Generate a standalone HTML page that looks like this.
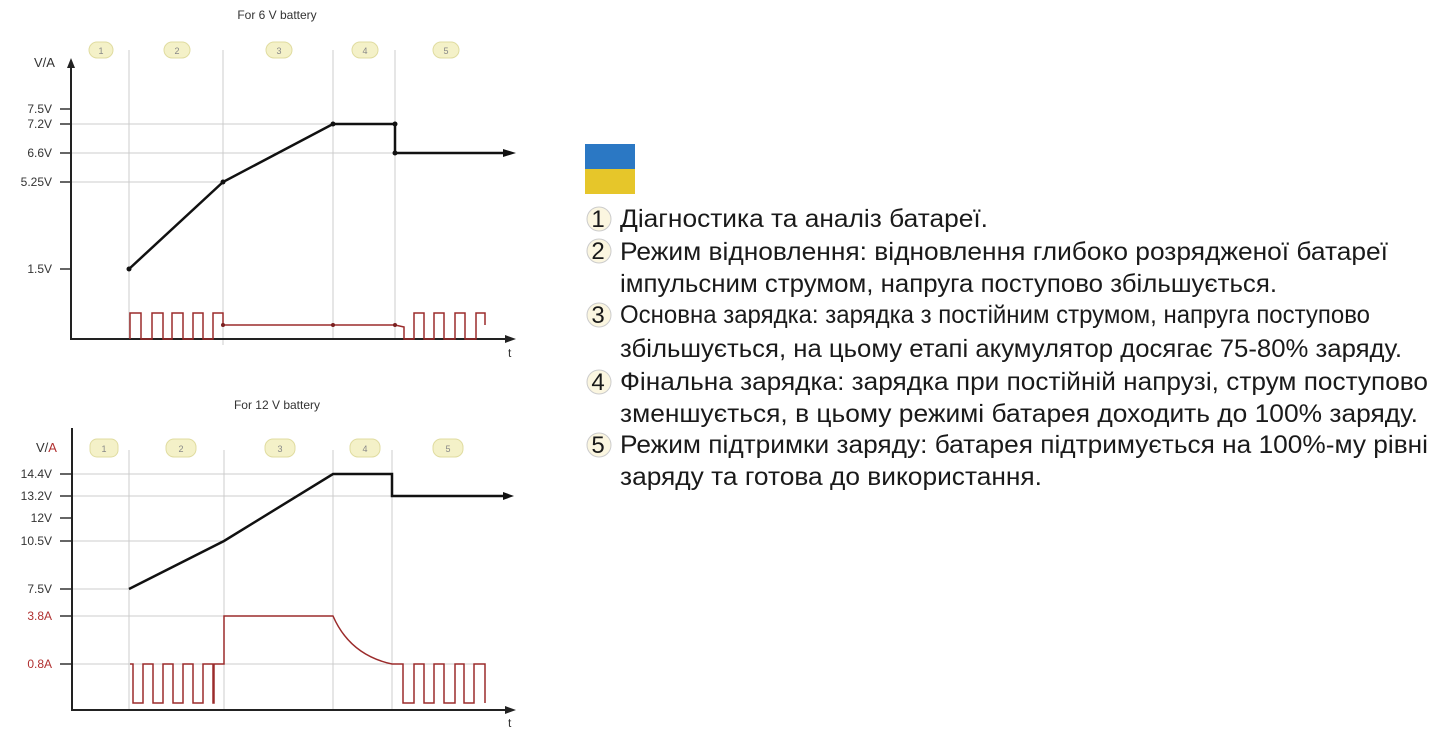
<!DOCTYPE html>
<html><head><meta charset="utf-8"><style>
html,body{margin:0;padding:0;background:#fff;}
svg{display:block}
</style></head><body>
<svg width="1440" height="736" xmlns="http://www.w3.org/2000/svg" font-family="Liberation Sans, DejaVu Sans, sans-serif">
<!-- TOP CHART -->
<text x="277" y="19" font-size="12" text-anchor="middle" fill="#333">For 6 V battery</text>
<g fill="#f4f1c8" stroke="#e0dca0" stroke-width="1">
<rect x="89" y="42" width="24" height="16" rx="8"/><rect x="164" y="42" width="26" height="16" rx="8"/><rect x="266" y="42" width="26" height="16" rx="8"/><rect x="352" y="42" width="26" height="16" rx="8"/><rect x="433" y="42" width="26" height="16" rx="8"/>
</g>
<g font-size="9" fill="#888" text-anchor="middle"><text x="101" y="54">1</text><text x="177" y="54">2</text><text x="279" y="54">3</text><text x="365" y="54">4</text><text x="446" y="54">5</text></g>
<g stroke="#ccc" stroke-width="1">
<line x1="129" y1="50" x2="129" y2="339"/><line x1="223" y1="50" x2="223" y2="345"/><line x1="333" y1="50" x2="333" y2="339"/><line x1="395" y1="50" x2="395" y2="339"/>
<line x1="72" y1="124" x2="395" y2="124"/><line x1="72" y1="153" x2="512" y2="153"/><line x1="72" y1="182" x2="223" y2="182"/>
</g>
<line x1="71" y1="65" x2="71" y2="340" stroke="#222" stroke-width="2"/>
<polygon points="71,58 67,68 75,68" fill="#222"/>
<line x1="71" y1="339" x2="508" y2="339" stroke="#222" stroke-width="2"/>
<polygon points="516,339 505,335 505,343" fill="#222"/>
<text x="508" y="357" font-size="12" fill="#333">t</text>
<text x="34" y="67" font-size="13" fill="#333">V/A</text>
<g font-size="12" fill="#333" text-anchor="end"><text x="52" y="113">7.5V</text><text x="52" y="128">7.2V</text><text x="52" y="157">6.6V</text><text x="52" y="186">5.25V</text><text x="52" y="273">1.5V</text></g>
<g stroke="#333" stroke-width="1.5"><line x1="60" y1="109" x2="70" y2="109"/><line x1="60" y1="124" x2="70" y2="124"/><line x1="60" y1="153" x2="70" y2="153"/><line x1="60" y1="182" x2="70" y2="182"/><line x1="60" y1="269" x2="70" y2="269"/></g>
<polyline points="129,269 223,182 333,124 395,124 395,153 505,153" fill="none" stroke="#111" stroke-width="2.5"/>
<polygon points="516,153 503,149 503,157" fill="#111"/>
<g fill="#111"><circle cx="129" cy="269" r="2.5"/><circle cx="223" cy="182" r="2.5"/><circle cx="333" cy="124" r="2.5"/><circle cx="395" cy="124" r="2.5"/><circle cx="395" cy="153" r="2.5"/></g>
<path d="M130,339 V313 H141 V339 H152 V313 H163 V339 H172 V313 H183 V339 H193 V313 H203 V339 H213 V313 H223 V325 H395 L404,327 V339 H414 V313 H424 V339 H434 V313 H444 V339 H455 V313 H465 V339 H476 V313 H485 V325" fill="none" stroke="#9b2b2b" stroke-width="1.5"/>
<g fill="#7a2020"><circle cx="223" cy="325" r="2"/><circle cx="333" cy="325" r="2"/><circle cx="395" cy="325" r="2"/></g>

<!-- BOTTOM CHART -->
<text x="277" y="409" font-size="12" text-anchor="middle" fill="#333">For 12 V battery</text>
<g fill="#f4f1c8" stroke="#e0dca0" stroke-width="1">
<rect x="90" y="439" width="28" height="18" rx="7"/><rect x="166" y="439" width="30" height="18" rx="8"/><rect x="265" y="439" width="30" height="18" rx="8"/><rect x="350" y="439" width="30" height="18" rx="8"/><rect x="433" y="439" width="30" height="18" rx="8"/>
</g>
<g font-size="9" fill="#888" text-anchor="middle"><text x="104" y="452">1</text><text x="181" y="452">2</text><text x="280" y="452">3</text><text x="365" y="452">4</text><text x="448" y="452">5</text></g>
<g stroke="#ccc" stroke-width="1">
<line x1="129" y1="450" x2="129" y2="710"/><line x1="224" y1="450" x2="224" y2="710"/><line x1="333" y1="450" x2="333" y2="710"/><line x1="392" y1="450" x2="392" y2="710"/>
<line x1="72" y1="474" x2="392" y2="474"/><line x1="72" y1="496" x2="512" y2="496"/><line x1="72" y1="541" x2="224" y2="541"/><line x1="72" y1="589" x2="129" y2="589"/><line x1="72" y1="616" x2="224" y2="616"/><line x1="72" y1="664" x2="485" y2="664"/>
</g>
<line x1="72" y1="428" x2="72" y2="711" stroke="#222" stroke-width="2"/>
<line x1="72" y1="710" x2="508" y2="710" stroke="#222" stroke-width="2"/>
<polygon points="516,710 505,706 505,714" fill="#222"/>
<text x="508" y="727" font-size="12" fill="#333">t</text>
<text x="36" y="452" font-size="13" fill="#333">V/<tspan fill="#b03030">A</tspan></text>
<g font-size="12" fill="#333" text-anchor="end"><text x="52" y="478">14.4V</text><text x="52" y="500">13.2V</text><text x="52" y="522">12V</text><text x="52" y="545">10.5V</text><text x="52" y="593">7.5V</text></g>
<g font-size="12" fill="#b03030" text-anchor="end"><text x="52" y="620">3.8A</text><text x="52" y="668">0.8A</text></g>
<g stroke="#333" stroke-width="1.5"><line x1="60" y1="474" x2="71" y2="474"/><line x1="60" y1="496" x2="71" y2="496"/><line x1="60" y1="518" x2="71" y2="518"/><line x1="60" y1="541" x2="71" y2="541"/><line x1="60" y1="589" x2="71" y2="589"/><line x1="60" y1="616" x2="71" y2="616"/><line x1="60" y1="664" x2="71" y2="664"/></g>
<polyline points="129,589 224,541 333,474 392,474 392,496 505,496" fill="none" stroke="#111" stroke-width="2.5"/>
<polygon points="514,496 503,492 503,500" fill="#111"/>
<path d="M130,664 H133 V703 H143 V664 H153 V703 H163 V664 H173 V703 H183 V664 H193 V703 H203 V664 H213 V703 H214 V664 H224 V616 H333 Q350,655 392,664 H403 V703 H414 V664 H424 V703 H434 V664 H444 V703 H455 V664 H464 V703 H474 V664 H485 V703" fill="none" stroke="#9b2b2b" stroke-width="1.5"/>

<!-- FLAG -->
<rect x="585" y="144" width="50" height="25" fill="#2b78c4"/>
<rect x="585" y="169" width="50" height="25" fill="#e6c62a"/>

<!-- TEXT -->
<g fill="#fbf6e0" stroke="#ccc" stroke-width="1">
<circle cx="599" cy="219" r="12"/><circle cx="599" cy="251" r="12"/><circle cx="599" cy="315" r="12"/><circle cx="599" cy="382" r="12"/><circle cx="599" cy="445" r="12"/>
</g>
<g font-size="24" fill="#1a1a1a" text-anchor="middle"><text x="598" y="227">1</text><text x="598" y="259">2</text><text x="598" y="323">3</text><text x="598" y="390">4</text><text x="598" y="453">5</text></g>
<g font-size="25" fill="#1a1a1a">
<text x="620" y="227" textLength="368" lengthAdjust="spacingAndGlyphs">Діагностика та аналіз батареї.</text>
<text x="620" y="260" textLength="768" lengthAdjust="spacingAndGlyphs">Режим відновлення: відновлення глибоко розрядженої батареї</text>
<text x="620" y="292" textLength="657" lengthAdjust="spacingAndGlyphs">імпульсним струмом, напруга поступово збільшується.</text>
<text x="620" y="323" textLength="750" lengthAdjust="spacingAndGlyphs">Основна зарядка: зарядка з постійним струмом, напруга поступово</text>
<text x="620" y="357" textLength="782" lengthAdjust="spacingAndGlyphs">збільшується, на цьому етапі акумулятор досягає 75-80% заряду.</text>
<text x="620" y="390" textLength="808" lengthAdjust="spacingAndGlyphs">Фінальна зарядка: зарядка при постійній напрузі, струм поступово</text>
<text x="620" y="422" textLength="798" lengthAdjust="spacingAndGlyphs">зменшується, в цьому режимі батарея доходить до 100% заряду.</text>
<text x="620" y="453" textLength="808" lengthAdjust="spacingAndGlyphs">Режим підтримки заряду: батарея підтримується на 100%-му рівні</text>
<text x="620" y="485" textLength="422" lengthAdjust="spacingAndGlyphs">заряду та готова до використання.</text>
</g>
</svg>
</body></html>
